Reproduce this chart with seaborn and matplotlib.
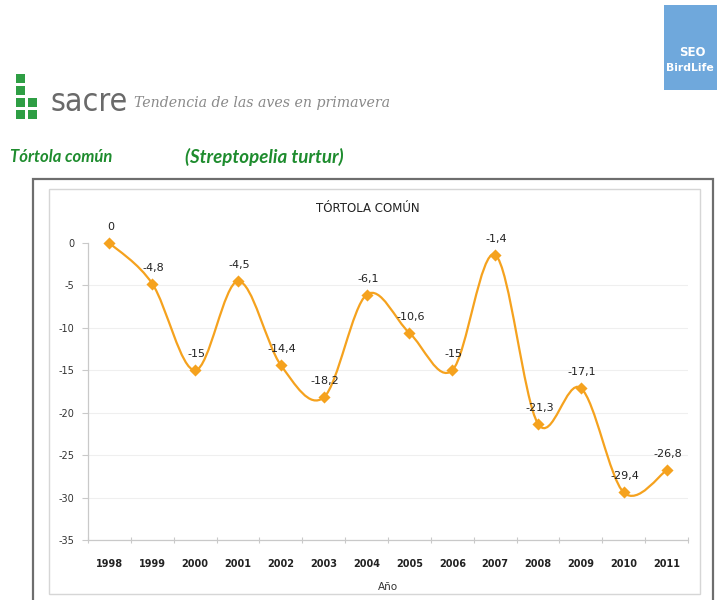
import matplotlib
matplotlib.use("Agg")
import matplotlib.pyplot as plt
from matplotlib.patches import Rectangle, PathPatch
from matplotlib.path import Path
import numpy as np
import pandas as pd
import seaborn as sns

# Survey years and population trend (% change relative to 1998)
years = ["1998", "1999", "2000", "2001", "2002", "2003", "2004",
         "2005", "2006", "2007", "2008", "2009", "2010", "2011"]
trend = [0, -4.8, -15, -4.5, -14.4, -18.2, -6.1,
         -10.6, -15, -1.4, -21.3, -17.1, -29.4, -26.8]
y_ticks = [0, -5, -10, -15, -20, -25, -30, -35]

chart_title = "TÓRTOLA COMÚN"
x_label = "Año"
species_common = "Tórtola común"
species_latin = "(Streptopelia turtur)"
program_name = "sacre"
program_tagline = "Tendencia de las aves en primavera"

W, H = 717, 600
ORANGE = "#F5A21E"
GREEN = "#1E8C2E"

sns.set_theme(style="white")
plt.rcParams["font.family"] = ["DejaVu Sans"]

fig = plt.figure(figsize=(W / 100, H / 100), dpi=100)
fig.patch.set_facecolor("white")


def fx(px):
    return px / W


def fy(py):
    return 1 - py / H


def frect(x0, y0, x1, y1, **kw):
    r = Rectangle((fx(x0), fy(y1)), fx(x1) - fx(x0), fy(y0) - fy(y1),
                  transform=fig.transFigure, zorder=-5, **kw)
    fig.add_artist(r)
    return r


# ---- page header ----
frect(664, 5, 720, 90, facecolor="#6FA8DC", edgecolor="none")
fig.text(fx(692), fy(52), "SEO", color="white", fontsize=8.5, fontweight="bold",
         ha="center", va="center")
fig.text(fx(666), fy(68), "BirdLife", color="white", fontsize=7.8,
         fontweight="bold", ha="left", va="center")

# logo blocks
sq = 9
for (cx, cy) in [(16, 74), (16, 86), (16, 98), (28, 98), (16, 110), (28, 110)]:
    frect(cx, cy, cx + sq, cy + sq, facecolor="#2E9E44", edgecolor="none")

fig.text(fx(50), fy(111), program_name, color="#6A6A6A", fontsize=23,
         family=["DejaVu Sans"], stretch="condensed", ha="left",
         va="baseline")
fig.text(fx(134), fy(103), program_tagline, color="#8A8A8A", fontsize=10.2,
         style="italic", family=["DejaVu Serif"], ha="left", va="center")

fig.text(fx(10), fy(157), species_common, color=GREEN, fontsize=12,
         fontweight="bold", style="italic", family=["Lato", "DejaVu Sans"],
         ha="left", va="center")
fig.text(fx(185), fy(157), species_latin, color=GREEN, fontsize=13.5,
         fontweight="bold", style="italic", family=["Lato", "DejaVu Sans"],
         ha="left", va="center")

# ---- chart frames ----
frect(33, 179, 713, 603, facecolor="none", edgecolor="#6E6E6E", linewidth=1.6)
frect(49, 189, 700, 594, facecolor="white", edgecolor="#D6D6D6", linewidth=1.0)

fig.text(fx(368), fy(208), chart_title, color="#222222", fontsize=8.5,
         ha="center", va="center")

# ---- plot area ----
ax = fig.add_axes([fx(88), fy(540), fx(688) - fx(88), fy(243) - fy(540)])
ax.set_facecolor("none")
ax.set_zorder(2)

df = pd.DataFrame({"pos": np.arange(len(years)), "year": years, "trend": trend})

# smoothed connecting curve (cubic Bézier segments through every point)
pts = df[["pos", "trend"]].to_numpy(dtype=float)
n = len(pts)
verts = [tuple(pts[0])]
codes = [Path.MOVETO]
for i in range(n - 1):
    p0 = pts[i - 1] if i > 0 else pts[i]
    p1 = pts[i]
    p2 = pts[i + 1]
    p3 = pts[i + 2] if i + 2 < n else pts[i + 1]
    c1 = p1 + (p2 - p0) / 6.0
    c2 = p2 - (p3 - p1) / 6.0
    verts += [tuple(c1), tuple(c2), tuple(p2)]
    codes += [Path.CURVE4] * 3
ax.add_patch(PathPatch(Path(verts, codes), facecolor="none", edgecolor=ORANGE,
                       linewidth=1.6, clip_on=False, zorder=3))

sns.scatterplot(data=df, x="pos", y="trend", marker="D", s=38, color=ORANGE,
                edgecolor=ORANGE, linewidth=0, ax=ax, zorder=4, clip_on=False,
                legend=False)

for p, v in zip(df["pos"], df["trend"]):
    label = f"{v:g}".replace(".", ",")
    ax.annotate(label, (p, v), xytext=(1, 8), textcoords="offset points",
                ha="center", va="bottom", fontsize=8, color="#222222",
                annotation_clip=False, zorder=5)

ax.set_xlim(-0.5, len(years) - 0.5)
ax.set_ylim(-35, 0)
ax.set_yticks(y_ticks)
ax.set_yticklabels([str(t) for t in y_ticks])
ax.set_xticks(np.arange(len(years)))
ax.set_xticklabels(years)
ax.set_xticks(np.arange(len(years) + 1) - 0.5, minor=True)

for t in y_ticks[1:]:
    ax.axhline(t, color="#EFEFEF", linewidth=0.8, zorder=0)

for side in ["top", "right"]:
    ax.spines[side].set_visible(False)
for side in ["left", "bottom"]:
    ax.spines[side].set_color("#C9C9C9")
    ax.spines[side].set_linewidth(0.9)

ax.tick_params(axis="y", which="major", left=True, length=4, width=0.8,
               color="#C9C9C9", labelsize=7, labelcolor="#333333", pad=6)
ax.tick_params(axis="x", which="major", bottom=False, labelsize=7,
               labelcolor="#222222", pad=8)
ax.tick_params(axis="x", which="minor", bottom=True, direction="inout",
               length=5, width=0.8, color="#C9C9C9")
for lbl in ax.get_xticklabels():
    lbl.set_fontweight("bold")

ax.set_xlabel(x_label, fontsize=7.5, color="#333333", labelpad=9)
ax.set_ylabel("")

fig.savefig("out.png", dpi=100, facecolor="white")
